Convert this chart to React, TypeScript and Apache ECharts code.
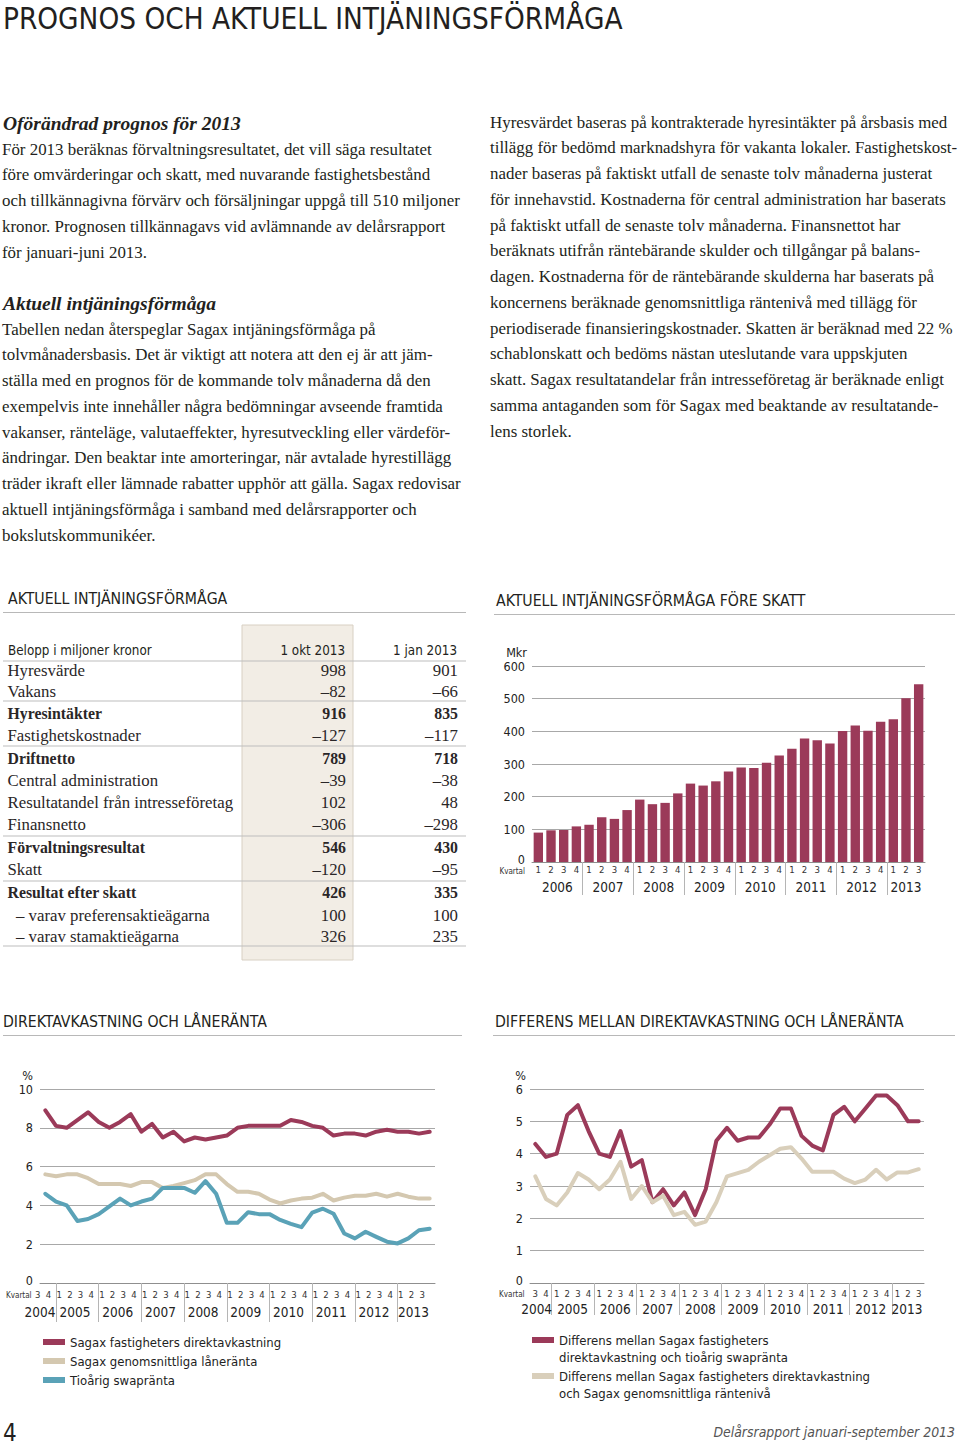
import React, { useEffect, useRef } from "react";
import * as echarts from "echarts";

const COND = "'Liberation Sans Narrow', 'DejaVu Sans Condensed', 'Roboto Condensed', 'Open Sans', sans-serif";
const SERIF = "'Liberation Serif', 'DejaVu Serif', serif";
const INK = "#231f20";
const RED = "#9b3a59";
const BEIGE = "#d4c8b0";
const BLUE = "#5aa2b7";
const GRIDC = "#a8a8a8";

// ---------- text ----------
const pageTitle = "PROGNOS OCH AKTUELL INTJÄNINGSFÖRMÅGA";
const heading1 = "Oförändrad prognos för 2013";
const para1 = [
  "För 2013 beräknas förvaltningsresultatet, det vill säga resultatet",
  "före omvärderingar och skatt, med nuvarande fastighetsbestånd",
  "och tillkännagivna förvärv och försäljningar uppgå till 510 miljoner",
  "kronor. Prognosen tillkännagavs vid avlämnande av delårsrapport",
  "för januari-juni 2013.",
];
const heading2 = "Aktuell intjäningsförmåga";
const para2 = [
  "Tabellen nedan återspeglar Sagax intjäningsförmåga på",
  "tolvmånadersbasis. Det är viktigt att notera att den ej är att jäm-",
  "ställa med en prognos för de kommande tolv månaderna då den",
  "exempelvis inte innehåller några bedömningar avseende framtida",
  "vakanser, ränteläge, valutaeffekter, hyresutveckling eller värdeför-",
  "ändringar. Den beaktar inte amorteringar, när avtalade hyrestillägg",
  "träder ikraft eller lämnade rabatter upphör att gälla. Sagax redovisar",
  "aktuell intjäningsförmåga i samband med delårsrapporter och",
  "bokslutskommunikéer.",
];
const para3 = [
  "Hyresvärdet baseras på kontrakterade hyresintäkter på årsbasis med",
  "tillägg för bedömd marknadshyra för vakanta lokaler. Fastighetskost-",
  "nader baseras på faktiskt utfall de senaste tolv månaderna justerat",
  "för innehavstid. Kostnaderna för central administration har baserats",
  "på faktiskt utfall de senaste tolv månaderna. Finansnettot har",
  "beräknats utifrån räntebärande skulder och tillgångar på balans-",
  "dagen. Kostnaderna för de räntebärande skulderna har baserats på",
  "koncernens beräknade genomsnittliga räntenivå med tillägg för",
  "periodiserade finansieringskostnader. Skatten är beräknad med 22 %",
  "schablonskatt och bedöms nästan uteslutande vara uppskjuten",
  "skatt. Sagax resultatandelar från intresseföretag är beräknade enligt",
  "samma antaganden som för Sagax med beaktande av resultatande-",
  "lens storlek.",
];
const sectionTable = "AKTUELL INTJÄNINGSFÖRMÅGA";
const sectionBar = "AKTUELL INTJÄNINGSFÖRMÅGA FÖRE SKATT";
const sectionLine1 = "DIREKTAVKASTNING OCH LÅNERÄNTA";
const sectionLine2 = "DIFFERENS MELLAN DIREKTAVKASTNING OCH LÅNERÄNTA";
const footerPage = "4";
const footerText = "Delårsrapport januari-september 2013";

// ---------- table ----------
const tableHeader = ["Belopp i miljoner kronor", "1 okt 2013", "1 jan 2013"];
const tableLabels = [
  "Hyresvärde", "Vakans", "Hyresintäkter", "Fastighetskostnader", "Driftnetto",
  "Central administration", "Resultatandel från intresseföretag", "Finansnetto",
  "Förvaltningsresultat", "Skatt", "Resultat efter skatt",
  "– varav preferensaktieägarna", "– varav stamaktieägarna",
];
const tableOkt = ["998", "–82", "916", "–127", "789", "–39", "102", "–306", "546", "–120", "426", "100", "326"];
const tableJan = ["901", "–66", "835", "–117", "718", "–38", "48", "–298", "430", "–95", "335", "100", "235"];
const tableBold = [false, false, true, false, true, false, false, false, true, false, true, false, false];

// ---------- bar chart ----------
const barCategories = [
  "2006 K1", "2006 K2", "2006 K3", "2006 K4",
  "2007 K1", "2007 K2", "2007 K3", "2007 K4",
  "2008 K1", "2008 K2", "2008 K3", "2008 K4",
  "2009 K1", "2009 K2", "2009 K3", "2009 K4",
  "2010 K1", "2010 K2", "2010 K3", "2010 K4",
  "2011 K1", "2011 K2", "2011 K3", "2011 K4",
  "2012 K1", "2012 K2", "2012 K3", "2012 K4",
  "2013 K1", "2013 K2", "2013 K3",
];
const barValues = [90, 97, 98, 109, 114, 137, 132, 159, 191, 177, 181, 210, 240, 234, 247, 277, 289, 288, 304, 326, 347, 378, 373, 363, 401, 418, 402, 429, 437, 501, 544];
const barTicks = [0, 100, 200, 300, 400, 500, 600];

// ---------- line charts ----------
const lineCategories = [
  "2004 K3", "2004 K4",
  "2005 K1", "2005 K2", "2005 K3", "2005 K4",
  "2006 K1", "2006 K2", "2006 K3", "2006 K4",
  "2007 K1", "2007 K2", "2007 K3", "2007 K4",
  "2008 K1", "2008 K2", "2008 K3", "2008 K4",
  "2009 K1", "2009 K2", "2009 K3", "2009 K4",
  "2010 K1", "2010 K2", "2010 K3", "2010 K4",
  "2011 K1", "2011 K2", "2011 K3", "2011 K4",
  "2012 K1", "2012 K2", "2012 K3", "2012 K4",
  "2013 K1", "2013 K2", "2013 K3",
];
const direktavkastning = [8.9, 8.1, 8.0, 8.4, 8.8, 8.3, 8.0, 8.3, 8.7, 7.8, 8.2, 7.5, 7.8, 7.3, 7.5, 7.4, 7.5, 7.6, 8.0, 8.1, 8.1, 8.1, 8.1, 8.4, 8.3, 8.1, 8.0, 7.6, 7.7, 7.7, 7.6, 7.8, 7.9, 7.8, 7.8, 7.7, 7.8];
const laneranta = [5.6, 5.5, 5.6, 5.6, 5.4, 5.1, 5.1, 5.1, 5.0, 5.2, 5.2, 4.9, 5.0, 5.15, 5.3, 5.6, 5.6, 5.1, 4.7, 4.7, 4.6, 4.3, 4.1, 4.25, 4.35, 4.4, 4.6, 4.25, 4.4, 4.5, 4.5, 4.6, 4.45, 4.6, 4.45, 4.35, 4.35];
const swapranta = [4.6, 4.2, 4.0, 3.2, 3.3, 3.55, 3.95, 4.35, 4.0, 4.2, 4.35, 4.9, 4.9, 4.9, 4.65, 5.25, 4.6, 3.1, 3.1, 3.65, 3.55, 3.55, 3.25, 3.05, 2.88, 3.63, 3.83, 3.57, 2.55, 2.3, 2.64, 2.38, 2.13, 2.04, 2.3, 2.72, 2.8];
const diffSwap = [4.3, 3.9, 4.0, 5.2, 5.5, 4.7, 4.0, 3.9, 4.7, 3.6, 3.8, 2.5, 2.9, 2.4, 2.8, 2.1, 2.9, 4.4, 4.8, 4.4, 4.5, 4.5, 4.9, 5.4, 5.4, 4.55, 4.25, 4.1, 5.2, 5.45, 5.0, 5.4, 5.8, 5.8, 5.5, 5.0, 5.0];
const diffLan = [3.3, 2.6, 2.4, 2.8, 3.4, 3.2, 2.9, 3.2, 3.75, 2.6, 3.0, 2.5, 2.7, 2.1, 2.2, 1.8, 1.9, 2.5, 3.3, 3.4, 3.5, 3.75, 3.95, 4.15, 4.2, 3.85, 3.44, 3.44, 3.44, 3.23, 3.09, 3.2, 3.5, 3.2, 3.42, 3.42, 3.52];

const nameDirekt = "Sagax fastigheters direktavkastning";
const nameLan = "Sagax genomsnittliga låneränta";
const nameSwap = "Tioårig swapränta";
const nameDiffSwap = "Differens mellan Sagax fastigheters direktavkastning och tioårig swapränta";
const nameDiffLan = "Differens mellan Sagax fastigheters direktavkastning och Sagax genomsnittliga räntenivå";
const legendLines: Record<string, string[]> = {
  [nameDiffSwap]: ["Differens mellan Sagax fastigheters", "direktavkastning och tioårig swapränta"],
  [nameDiffLan]: ["Differens mellan Sagax fastigheters direktavkastning", "och Sagax genomsnittliga räntenivå"],
};

// ---------- layout ----------
const ROW_Y = [670.7, 691, 713.3, 735.7, 758.3, 780.7, 802.7, 824.7, 847.7, 869.3, 892.7, 915, 936.7];
const TABLE_LINES_Y = [661, 701, 746, 836, 881, 946];
const LINE_STEP = 25.75;

const quarterOf = (c: string) => c.split(" K")[1];
const yearOf = (c: string) => c.split(" ")[0];

// half-step category axis holding year labels and year separators
function yearAxis(cats: string[], tickOffset: number) {
  const n = cats.length;
  const labels: string[] = new Array(2 * n + 1).fill("");
  const ticks: number[] = [];
  let s = 0;
  for (let i = 1; i <= n; i++) {
    if (i === n || yearOf(cats[i]) !== yearOf(cats[s])) {
      labels[s + i] = yearOf(cats[s]);
      if (s > 0) ticks.push(2 * s + tickOffset);
      s = i;
    }
  }
  return { labels, ticks };
}

function txt(x: number, y: number, text: string, font: string, fill = INK, align = "left") {
  return {
    type: "text",
    x,
    y,
    silent: true,
    style: { text, font, fill, textAlign: align, textVerticalAlign: "middle" },
  };
}
function hline(x1: number, x2: number, y: number, stroke = "#b8b8b8", lineWidth = 1) {
  return { type: "line", silent: true, shape: { x1, y1: y, x2, y2: y }, style: { stroke, lineWidth } };
}

export default function App() {
  const ref = useRef<HTMLDivElement>(null);

  useEffect(() => {
    if (!ref.current) return;
    const chart = echarts.init(ref.current, undefined, { renderer: "svg" });

    const barYears = yearAxis(barCategories, 0);
    const l1Years = yearAxis(lineCategories, -1);
    const l2Years = yearAxis(lineCategories, 0);
    const firstYear = yearOf(lineCategories[0]);
    const lastYear = yearOf(lineCategories[lineCategories.length - 1]);

    const BODY = `16.9px ${SERIF}`;
    const elements: any[] = [];
    elements.push(txt(3, 19, pageTitle, `29.4px ${COND}`));
    elements.push(txt(3, 123, heading1, `italic bold 19.5px ${SERIF}`));
    para1.forEach((l, i) => elements.push(txt(2, 149 + i * LINE_STEP, l, BODY)));
    elements.push(txt(3, 303, heading2, `italic bold 19.5px ${SERIF}`));
    para2.forEach((l, i) => elements.push(txt(2, 329 + i * LINE_STEP, l, BODY)));
    para3.forEach((l, i) => elements.push(txt(490, 122 + i * LINE_STEP, l, BODY)));

    // section headings
    const SEC = `15.7px ${COND}`;
    elements.push(txt(8, 598, sectionTable, SEC));
    elements.push(hline(3, 466, 612.5));
    elements.push(txt(496, 600, sectionBar, SEC));
    elements.push(hline(494, 955, 614.5));
    elements.push(txt(3, 1021, sectionLine1, SEC));
    elements.push(hline(3, 462, 1035.5));
    elements.push(txt(495, 1021, sectionLine2, SEC));
    elements.push(hline(493, 955, 1035.5));

    // table
    elements.push({
      type: "rect",
      silent: true,
      shape: { x: 242, y: 625, width: 111, height: 335 },
      style: { fill: "#f2ede5", stroke: "#d8d0c3", lineWidth: 1 },
    });
    TABLE_LINES_Y.forEach((y) => elements.push(hline(3, 466, y, "#bdbdbd", 1.2)));
    const HEAD = `13.3px ${COND}`;
    elements.push(txt(8, 650, tableHeader[0], HEAD));
    elements.push(txt(345, 650, tableHeader[1], HEAD, INK, "right"));
    elements.push(txt(457, 650, tableHeader[2], HEAD, INK, "right"));
    tableLabels.forEach((lab, i) => {
      const f = tableBold[i] ? `bold 15.8px ${SERIF}` : `16.8px ${SERIF}`;
      const indent = lab.startsWith("–") ? 16 : 7.5;
      elements.push(txt(indent, ROW_Y[i], lab, f, "#2a2627"));
      elements.push(txt(346, ROW_Y[i], tableOkt[i], f, "#2a2627", "right"));
      elements.push(txt(458, ROW_Y[i], tableJan[i], f, "#2a2627", "right"));
    });

    // Kvartal labels
    elements.push(txt(525, 871, "Kvartal", `8px ${COND}`, "#333", "right"));
    elements.push(txt(6, 1295.5, "Kvartal", `8px ${COND}`, "#333"));
    elements.push(txt(499, 1294.3, "Kvartal", `8px ${COND}`, "#333"));

    // footer
    elements.push(txt(3, 1433, footerPage, `24px ${COND}`));
    elements.push(txt(955, 1432, footerText, `italic 13.9px ${COND}`, "#555", "right"));

    const quarterAxis = (gridIndex: number, data: string[], margin: number, extra: any = {}) => ({
      type: "category",
      gridIndex,
      data,
      position: "bottom",
      boundaryGap: true,
      axisLine: { lineStyle: { color: "#8f8f8f", width: 1 } },
      axisTick: { show: false },
      axisLabel: {
        interval: 0,
        formatter: (v: string) => quarterOf(v),
        fontFamily: COND,
        fontSize: 9.5,
        color: "#333",
        margin,
        ...extra,
      },
    });
    const yearAx = (gridIndex: number, ya: { labels: string[]; ticks: number[] }, margin: number, tickLen: number, rich: any, key: (v: string) => string) => ({
      type: "category",
      gridIndex,
      data: ya.labels,
      position: "bottom",
      boundaryGap: false,
      axisLine: { show: false },
      axisTick: {
        interval: (i: number) => ya.ticks.indexOf(i) >= 0,
        length: tickLen,
        lineStyle: { color: "#b5b5b5", width: 1 },
      },
      axisLabel: {
        interval: 0,
        margin,
        formatter: (v: string) => (v ? `{${key(v)}|${v}}` : ""),
        rich,
      },
    });
    const yearRich = (first: number[], mid: number[], last: number[]) => {
      const base = { fontFamily: COND, fontSize: 13.5, color: "#222" };
      return {
        f: { ...base, padding: first },
        m: { ...base, padding: mid },
        l: { ...base, padding: last },
      };
    };
    const keyOf = (v: string) => (v === firstYear ? "f" : v === lastYear ? "l" : "m");
    const valueAxis = (gridIndex: number, max: number, interval: number, name: string, namePadRight: number) => ({
      type: "value",
      gridIndex,
      min: 0,
      max,
      interval,
      name,
      nameLocation: "end",
      nameGap: 14,
      nameTextStyle: {
        align: "right",
        verticalAlign: "middle",
        fontFamily: COND,
        fontSize: 12.5,
        color: "#222",
        padding: [0, namePadRight, 0, 0],
      },
      axisLine: { show: false },
      axisTick: { show: false },
      axisLabel: {
        fontFamily: COND,
        fontSize: 12.5,
        color: "#222",
        margin: 7,
        formatter: (v: number) => (v === 0 ? "{z|0}" : String(v)),
        rich: { z: { fontFamily: COND, fontSize: 12.5, color: "#222", padding: [0, 0, 6, 0] } },
      },
      splitLine: { lineStyle: { color: GRIDC, width: 1 } },
    });

    const option: any = {
      animation: false,
      textStyle: { fontFamily: COND },
      grid: [
        { left: 532, top: 666, width: 393, height: 196 },
        { left: 40, top: 1089, width: 395, height: 194 },
        { left: 530, top: 1089, width: 394, height: 194 },
      ],
      xAxis: [
        quarterAxis(0, barCategories, 2.5),
        yearAx(0, barYears, 17.5, 33, yearRich([0, 0, 0, 0], [0, 0, 0, 0], [0, 0, 0, 0]), () => "m"),
        quarterAxis(1, lineCategories, 6.5, { padding: [0, 15, 0, 0] }),
        yearAx(1, l1Years, 22, 39, yearRich([0, 21.4, 0, 0], [0, 15.4, 0, 0], [0, 11, 0, 0]), keyOf),
        quarterAxis(2, lineCategories, 5.3),
        yearAx(2, l2Years, 18.5, 32, yearRich([0, 8, 0, 0], [0, 0, 0, 0], [0, 2, 0, 0]), keyOf),
      ],
      yAxis: [
        valueAxis(0, barTicks[barTicks.length - 1], barTicks[1] - barTicks[0], "Mkr", 5),
        valueAxis(1, 10, 2, "%", 7),
        valueAxis(2, 6, 1, "%", 4),
      ],
      legend: [
        {
          data: [nameDirekt, nameLan, nameSwap],
          orient: "vertical",
          left: 43,
          top: 1334,
          padding: 0,
          icon: "rect",
          itemWidth: 22,
          itemHeight: 6,
          itemGap: 3,
          selectedMode: false,
          textStyle: { fontFamily: COND, fontSize: 13, color: "#222", lineHeight: 16 },
        },
        {
          data: [nameDiffSwap, nameDiffLan],
          orient: "vertical",
          left: 532,
          top: 1314.5,
          padding: 0,
          icon: "rect",
          itemWidth: 22,
          itemHeight: 6,
          itemGap: -15,
          selectedMode: false,
          // a leading blank line keeps the swatch level with the first text line
          formatter: (n: string) => {
            const l = legendLines[n];
            return l ? `{b| }\n{t|${l[0]}}\n{t|${l[1]}}` : n;
          },
          textStyle: {
            fontFamily: COND,
            fontSize: 13,
            color: "#222",
            lineHeight: 17,
            rich: {
              b: { fontSize: 13, lineHeight: 17 },
              t: { fontFamily: COND, fontSize: 13, color: "#222", lineHeight: 17 },
            },
          },
        },
      ],
      series: [
        {
          type: "bar",
          name: "Aktuell intjäningsförmåga före skatt",
          xAxisIndex: 0,
          yAxisIndex: 0,
          data: barValues,
          barCategoryGap: "26%",
          itemStyle: { color: RED },
        },
        ...[
          [nameDirekt, direktavkastning, RED],
          [nameLan, laneranta, BEIGE],
          [nameSwap, swapranta, BLUE],
        ].map(([name, data, color]: any) => ({
          type: "line",
          name,
          xAxisIndex: 2,
          yAxisIndex: 1,
          data,
          symbol: "none",
          color,
          itemStyle: { color },
          lineStyle: { color, width: 4, join: "round", cap: "round" },
        })),
        ...[
          [nameDiffSwap, diffSwap, RED],
          [nameDiffLan, diffLan, "#d9cfbb"],
        ].map(([name, data, color]: any) => ({
          type: "line",
          name,
          xAxisIndex: 4,
          yAxisIndex: 2,
          data,
          symbol: "none",
          color,
          itemStyle: { color },
          lineStyle: { color, width: 4, join: "round", cap: "round" },
        })),
      ],
      graphic: { elements },
    };

    chart.setOption(option);
    return () => chart.dispose();
  }, []);

  return (
    <div
      ref={ref}
      style={{ position: "absolute", left: 0, top: 0, width: 960, height: 1446, background: "#fff" }}
    />
  );
}
